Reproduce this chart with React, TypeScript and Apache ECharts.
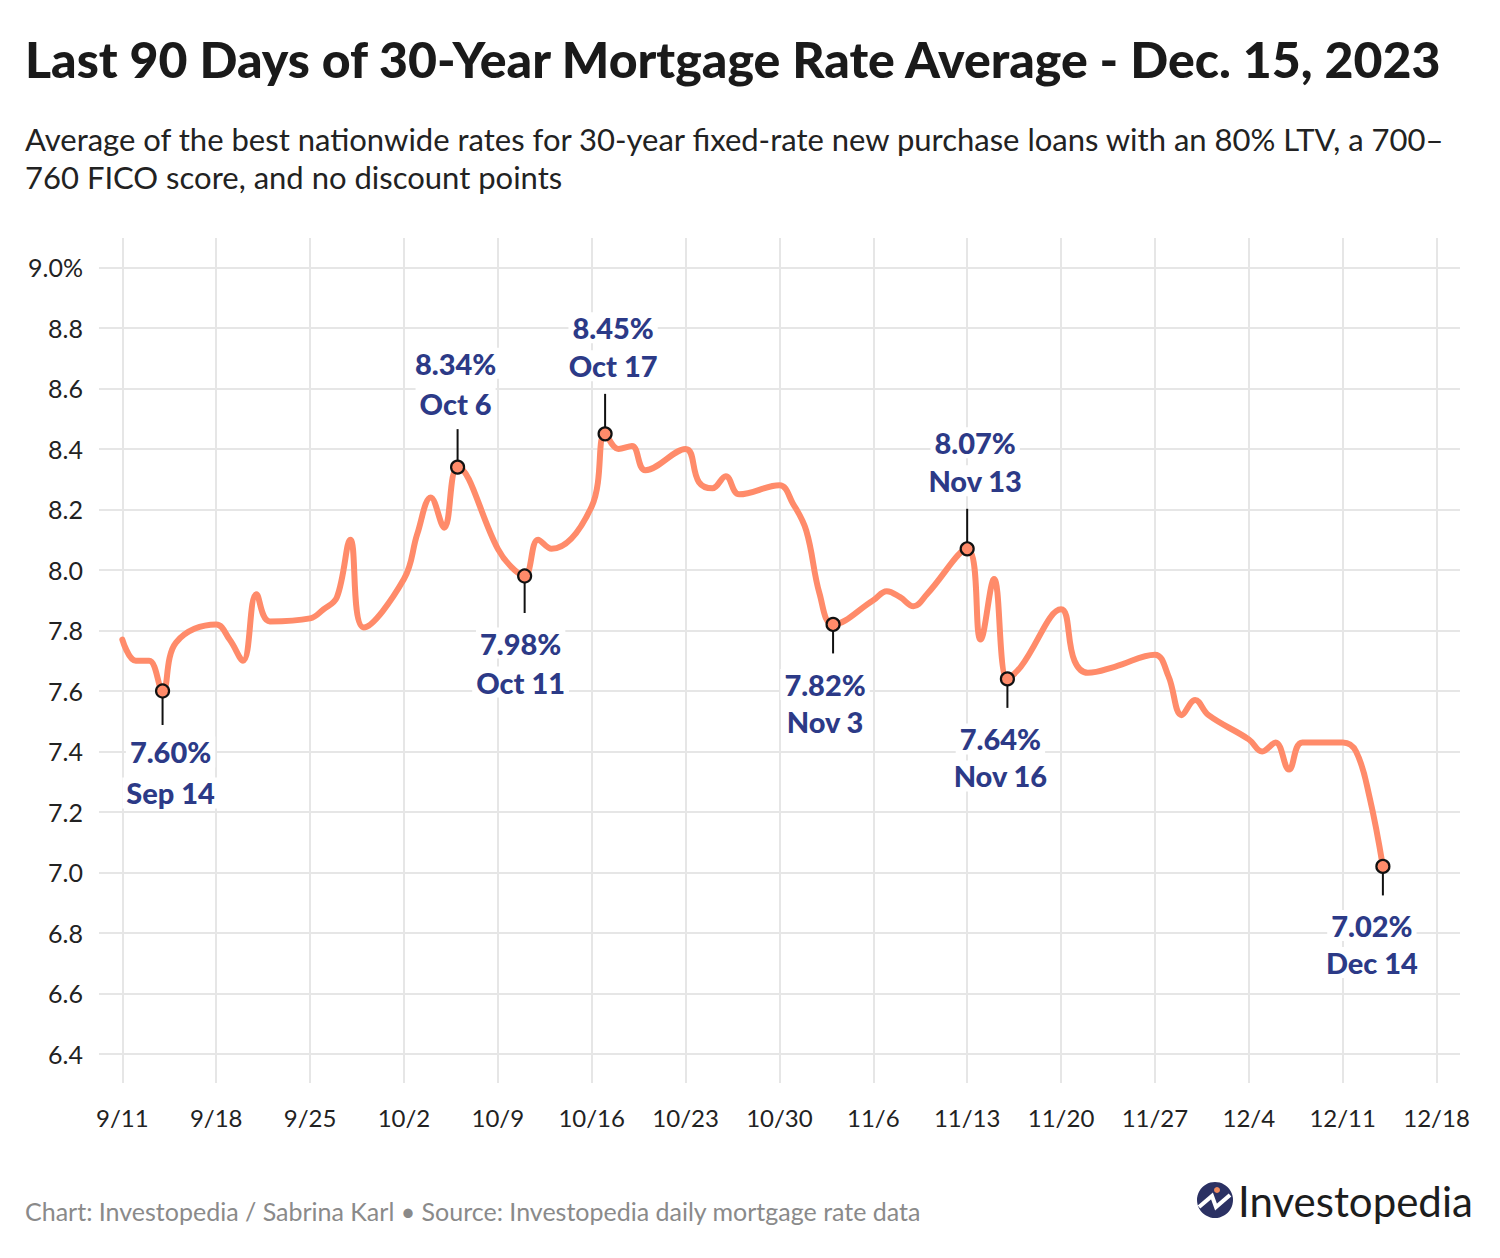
import React, { useEffect, useRef } from 'react';
import * as echarts from 'echarts';

// ---------- DATA ----------
const dates: string[] = [
  '2023-09-11', '2023-09-12', '2023-09-13', '2023-09-14', '2023-09-15',
  '2023-09-18', '2023-09-19', '2023-09-20', '2023-09-21', '2023-09-22',
  '2023-09-25', '2023-09-26', '2023-09-27', '2023-09-28', '2023-09-29',
  '2023-10-02', '2023-10-03', '2023-10-04', '2023-10-05', '2023-10-06',
  '2023-10-09', '2023-10-10', '2023-10-11', '2023-10-12', '2023-10-13',
  '2023-10-16', '2023-10-17', '2023-10-18', '2023-10-19', '2023-10-20',
  '2023-10-23', '2023-10-24', '2023-10-25', '2023-10-26', '2023-10-27',
  '2023-10-30', '2023-10-31', '2023-11-01', '2023-11-02', '2023-11-03',
  '2023-11-06', '2023-11-07', '2023-11-08', '2023-11-09', '2023-11-10',
  '2023-11-13', '2023-11-14', '2023-11-15', '2023-11-16', '2023-11-17',
  '2023-11-20', '2023-11-21', '2023-11-22', '2023-11-24',
  '2023-11-27', '2023-11-28', '2023-11-29', '2023-11-30', '2023-12-01',
  '2023-12-04', '2023-12-05', '2023-12-06', '2023-12-07', '2023-12-08',
  '2023-12-11', '2023-12-12', '2023-12-13', '2023-12-14',
];

const rates: number[] = [
  7.77, 7.70, 7.70, 7.60, 7.76,
  7.82, 7.77, 7.70, 7.92, 7.83,
  7.84, 7.87, 7.91, 8.10, 7.81,
  7.97, 8.12, 8.24, 8.14, 8.34,
  8.07, 8.01, 7.98, 8.10, 8.07,
  8.21, 8.45, 8.40, 8.41, 8.33,
  8.40, 8.29, 8.27, 8.31, 8.25,
  8.28, 8.22, 8.13, 7.92, 7.82,
  7.90, 7.93, 7.91, 7.88, 7.92,
  8.07, 7.77, 7.97, 7.64, 7.68,
  7.87, 7.70, 7.66, 7.68,
  7.72, 7.65, 7.52, 7.57, 7.52,
  7.44, 7.40, 7.43, 7.34, 7.43,
  7.43, 7.40, 7.25, 7.02,
];

const xTickLabels: string[] = ['9/11', '9/18', '9/25', '10/2', '10/9', '10/16', '10/23', '10/30', '11/6', '11/13', '11/20', '11/27', '12/4', '12/11', '12/18'];
const yTicks: number[] = [6.4, 6.6, 6.8, 7.0, 7.2, 7.4, 7.6, 7.8, 8.0, 8.2, 8.4, 8.6, 8.8, 9.0];

const annotationDates: string[] = ['2023-09-14', '2023-10-06', '2023-10-11', '2023-10-17', '2023-11-03', '2023-11-13', '2023-11-16', '2023-12-14'];

// layout offsets for annotations (pixels relative to the marker)
const annotationLayout = [
  { dx: 8, lineEnd: 34, pctY: 61, dateY: 102 },
  { dx: -2, lineEnd: -38, pctY: -104, dateY: -64 },
  { dx: -4, lineEnd: 37, pctY: 67, dateY: 106 },
  { dx: 8, lineEnd: -40, pctY: -106, dateY: -68 },
  { dx: -8, lineEnd: 29, pctY: 60, dateY: 97 },
  { dx: 8, lineEnd: -40, pctY: -106, dateY: -68 },
  { dx: -7, lineEnd: 29, pctY: 60, dateY: 97 },
  { dx: -11, lineEnd: 29, pctY: 59, dateY: 96 },
];

const MONTHS = ['Jan', 'Feb', 'Mar', 'Apr', 'May', 'Jun', 'Jul', 'Aug', 'Sep', 'Oct', 'Nov', 'Dec'];
const START = Date.UTC(2023, 8, 11);
const DAY = 86400000;
const toDay = (s: string) => (Date.parse(s + 'T00:00:00Z') - START) / DAY;
const tickToDay = (lbl: string) => {
  const [m, d] = lbl.split('/').map(Number);
  return (Date.UTC(2023, m - 1, d) - START) / DAY;
};

const FONT = 'Lato, "Noto Sans", sans-serif';
const LINE_COLOR = '#ff8b6a';
const NAVY = '#2c3a87';

export default function App() {
  const ref = useRef<HTMLDivElement>(null);

  useEffect(() => {
    if (!ref.current) return;
    const chart = echarts.init(ref.current, undefined, { renderer: 'svg' });

    const lineData = dates.map((d, i) => [toDay(d), rates[i]]);
    const xTickVals = xTickLabels.map(tickToDay);
    const annData = annotationDates.map((d, i) => {
      const idx = dates.indexOf(d);
      return [toDay(d), rates[idx], i];
    });

    const option: any = {
      animation: false,
      backgroundColor: '#ffffff',
      textStyle: { fontFamily: FONT },
      grid: { left: 99, right: 40, top: 238, bottom: 175, containLabel: false },
      xAxis: {
        type: 'value',
        min: -1.74,
        max: 99.75,
        axisLine: { show: false },
        axisTick: { show: false, customValues: xTickVals },
        axisLabel: {
          customValues: xTickVals,
          formatter: (v: number) => {
            const i = xTickVals.findIndex((t) => Math.abs(t - v) < 0.01);
            return i >= 0 ? xTickLabels[i] : '';
          },
          color: '#222',
          fontSize: 24,
          fontFamily: FONT,
          margin: 22,
        },
        splitLine: { show: true, lineStyle: { color: '#e6e6e6', width: 2 } },
      },
      yAxis: {
        type: 'value',
        min: 6.304,
        max: 9.0975,
        axisLine: { show: false },
        axisTick: { show: false, customValues: yTicks },
        axisLabel: {
          customValues: yTicks,
          formatter: (v: number) => (Math.abs(v - 9) < 0.001 ? '9.0%' : v.toFixed(1)),
          color: '#222',
          fontSize: 25,
          fontFamily: FONT,
          margin: 16,
        },
        splitLine: { show: true, lineStyle: { color: '#e6e6e6', width: 2 } },
      },
      series: [
        {
          type: 'line',
          data: lineData,
          smooth: 0.4,
          showSymbol: false,
          symbol: 'none',
          lineStyle: { color: LINE_COLOR, width: 6, cap: 'round', join: 'round' },
          z: 3,
        },
        {
          type: 'custom',
          data: annData,
          z: 5,
          renderItem: (params: any, api: any) => {
            const p = api.coord([api.value(0), api.value(1)]);
            const i = api.value(2);
            const lay = annotationLayout[i];
            const d = new Date(Date.parse(annotationDates[i] + 'T00:00:00Z'));
            const dateTxt = `${MONTHS[d.getUTCMonth()]} ${d.getUTCDate()}`;
            const pctTxt = `${api.value(1).toFixed(2)}%`;
            const r = 6.5;
            const sign = lay.lineEnd > 0 ? 1 : -1;
            const textStyle = (t: string, y: number) => ({
              type: 'text',
              style: {
                text: t,
                x: p[0] + lay.dx,
                y: p[1] + y,
                align: 'center',
                verticalAlign: 'middle',
                fill: NAVY,
                font: `900 29px ${FONT}`,
                backgroundColor: '#ffffff',
                padding: [1, 4, 1, 4],
              },
            });
            return {
              type: 'group',
              children: [
                {
                  type: 'line',
                  shape: { x1: p[0], y1: p[1] + sign * r, x2: p[0], y2: p[1] + lay.lineEnd },
                  style: { stroke: '#111', lineWidth: 2 },
                },
                {
                  type: 'circle',
                  shape: { cx: p[0], cy: p[1], r },
                  style: { fill: LINE_COLOR, stroke: '#111', lineWidth: 2.2 },
                },
                textStyle(pctTxt, lay.pctY),
                textStyle(dateTxt, lay.dateY),
              ],
            };
          },
        },
      ],
      graphic: [
        {
          type: 'text',
          style: {
            text: 'Last 90 Days of 30-Year Mortgage Rate Average - Dec. 15, 2023',
            x: 25,
            y: 59,
            verticalAlign: 'middle',
            fill: '#1a1a1a',
            font: `900 50px ${FONT}`,
          },
        },
        {
          type: 'text',
          style: {
            text: 'Average of the best nationwide rates for 30-year fixed-rate new purchase loans with an 80% LTV, a 700–',
            x: 25,
            y: 139,
            verticalAlign: 'middle',
            fill: '#222',
            font: `31px ${FONT}`,
          },
        },
        {
          type: 'text',
          style: {
            text: '760 FICO score, and no discount points',
            x: 25,
            y: 177,
            verticalAlign: 'middle',
            fill: '#222',
            font: `31px ${FONT}`,
          },
        },
        {
          type: 'text',
          style: {
            text: 'Chart: Investopedia / Sabrina Karl • Source: Investopedia daily mortgage rate data',
            x: 25,
            y: 1211,
            verticalAlign: 'middle',
            fill: '#8a8a8a',
            font: `25px ${FONT}`,
          },
        },
        {
          type: 'group',
          children: [
            { type: 'circle', shape: { cx: 1215, cy: 1200, r: 18 }, style: { fill: '#2b3163' } },
            {
              type: 'polyline',
              shape: { points: [[1199, 1207], [1212, 1196], [1216, 1207], [1230, 1195]] },
              style: { stroke: '#ffffff', lineWidth: 4, fill: 'none', lineJoin: 'miter' },
            },
            { type: 'circle', shape: { cx: 1217, cy: 1190, r: 3 }, style: { fill: '#f08a5d' } },
            {
              type: 'text',
              style: {
                text: 'Investopedia',
                x: 1238,
                y: 1201,
                verticalAlign: 'middle',
                fill: '#1d1d1d',
                font: `42px ${FONT}`,
              },
            },
          ],
        },
      ],
    };

    chart.setOption(option);
    return () => chart.dispose();
  }, []);

  return (
    <div
      ref={ref}
      style={{ position: 'absolute', left: 0, top: 0, width: 1500, height: 1258, background: '#fff' }}
    />
  );
}
